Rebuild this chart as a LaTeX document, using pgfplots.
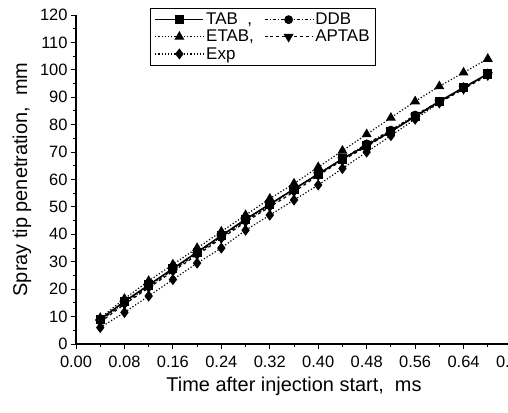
\documentclass[border=0pt]{standalone}
\usepackage{fontspec}
\setmainfont{Liberation Sans}
\usepackage{pgfplots}
\usepackage{pgfplotstable}
\pgfplotsset{compat=1.18}

% Spray tip penetration (mm) against time after injection start (ms)
\pgfplotstableread{
t     TAB   DDB   ETAB  APTAB Exp
0.04  9.0   8.5   9.5   8.0   6.0
0.08  15.5  15.0  16.5  14.5  11.5
0.12  21.5  21.0  23.0  20.5  17.5
0.16  27.5  27.0  29.0  26.5  23.5
0.20  33.5  33.0  35.0  32.5  29.5
0.24  39.5  39.0  41.0  38.5  35.0
0.28  45.5  45.0  47.0  44.5  41.5
0.32  51.0  50.5  53.0  50.0  47.0
0.36  56.5  56.5  58.5  55.5  52.5
0.40  62.0  62.0  64.5  61.5  58.0
0.44  67.5  67.5  70.5  67.0  64.0
0.48  72.5  73.0  76.5  72.0  70.0
0.52  77.5  78.0  82.5  77.5  76.0
0.56  83.0  83.5  88.5  83.0  82.0
0.60  88.5  88.5  94.0  88.0  88.0
0.64  93.5  93.5  99.0  93.0  93.5
0.68  98.5  98.5  104.0 98.0  98.5
}\penetration

\begin{document}
\begin{tikzpicture}
\begin{axis}[
  scale only axis,
  width=436bp, height=329bp,
  xmin=0, xmax=0.72, ymin=0, ymax=120,
  axis lines*=left,
  axis line style={line width=1.3pt, black},
  xtick={0,0.08,0.16,0.24,0.32,0.40,0.48,0.56,0.64,0.72},
  ytick={0,10,...,120},
  minor x tick num=1, minor y tick num=1,
  tick align=outside,
  major tick length=5bp, minor tick length=3bp,
  tick style={black, line width=1pt},
  /pgf/number format/assume math mode=true,
  xticklabel style={/pgf/number format/fixed,
    /pgf/number format/fixed zerofill,
    /pgf/number format/precision=2, yshift=-3bp},
  ticklabel style={font=\fontsize{16.5}{18}\selectfont},
  xlabel={Time after injection start,\ \ ms},
  ylabel={Spray tip penetration,\ \ mm},
  label style={font=\fontsize{20}{22}\selectfont},
  xlabel style={yshift=-3bp},
  ylabel style={yshift=2bp},
  legend columns=2,
  legend cell align=left,
  legend style={at={(rel axis cs:0.17,1.022)}, anchor=north west,
    draw=black, line width=0.7pt, inner xsep=4bp, inner ysep=3bp,
    font=\fontsize{17}{19}\selectfont,
    /tikz/every even column/.append style={column sep=8bp},
    /tikz/every row/.append style={row sep=3bp}},
  legend image code/.code={%
    \draw[mark repeat=2, mark phase=2, #1]
      plot coordinates {(0cm,0cm) (0.85cm,0cm) (1.7cm,0cm)};},
  every axis plot/.append style={black, mark size=3.8bp},
]
\addplot[solid, line width=1.6pt, mark=square*] table[x=t, y=TAB] {\penetration};
\addlegendentry{TAB\ \ ,}
\addplot[line width=1.2pt, dash pattern=on 3bp off 2bp on 1bp off 2bp, mark=*, mark options={solid}] table[x=t, y=DDB] {\penetration};
\addlegendentry{DDB}
\addplot[line width=1.2pt, dotted, mark=triangle*, mark options={solid}, mark size=4.6bp] table[x=t, y=ETAB] {\penetration};
\addlegendentry{ETAB,}
\addplot[line width=1.2pt, dashed, mark=triangle*, mark options={solid, rotate=180}, mark size=4.6bp] table[x=t, y=APTAB] {\penetration};
\addlegendentry{APTAB}
\addplot[line width=1.2pt, dotted, mark=diamond*, mark options={solid}, mark size=4.6bp] table[x=t, y=Exp] {\penetration};
\addlegendentry{Exp}
\coordinate (BL) at (rel axis cs:0,0);
\coordinate (TR) at (rel axis cs:1,1);
\end{axis}
\pgfresetboundingbox
\path ([shift={(-76bp,-68bp)}]BL) rectangle ([shift={(-4bp,15bp)}]TR);
\end{tikzpicture}
\end{document}
